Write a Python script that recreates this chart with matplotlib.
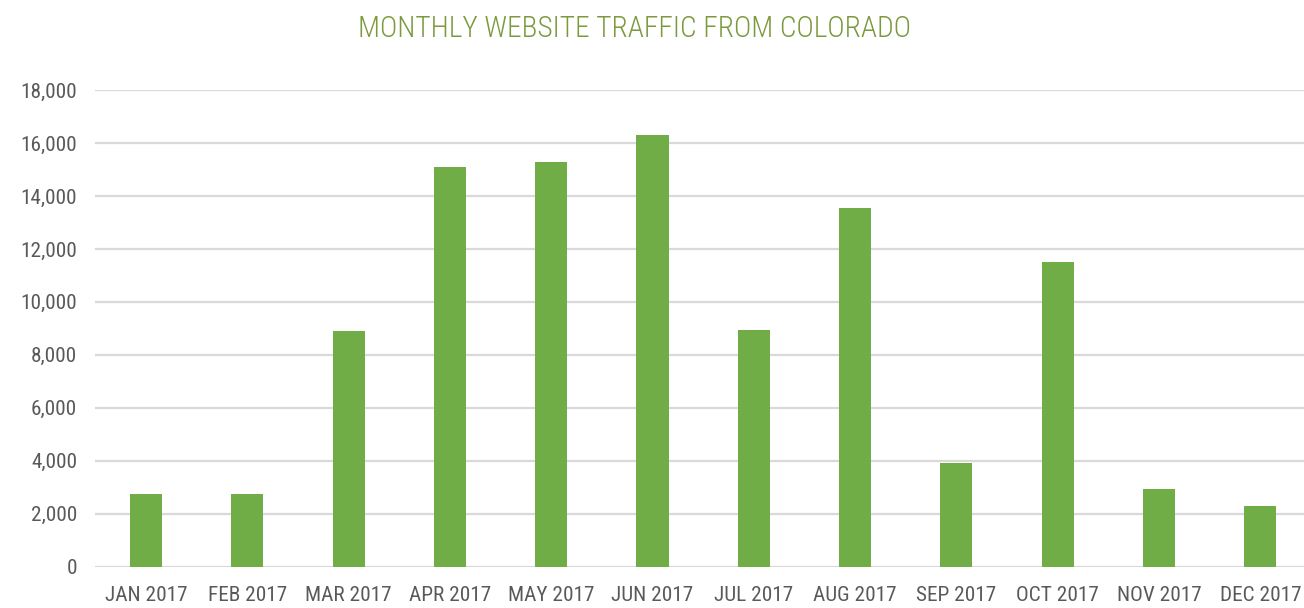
import matplotlib
matplotlib.use("Agg")
import matplotlib.pyplot as plt
from matplotlib import font_manager
from matplotlib.ticker import FuncFormatter

# data
months = ["JAN 2017", "FEB 2017", "MAR 2017", "APR 2017", "MAY 2017", "JUN 2017",
          "JUL 2017", "AUG 2017", "SEP 2017", "OCT 2017", "NOV 2017", "DEC 2017"]
visits = [2730, 2730, 8900, 15080, 15270, 16290, 8950, 13530, 3930, 11500, 2950, 2280]
yticks = [0, 2000, 4000, 6000, 8000, 10000, 12000, 14000, 16000, 18000]

names = set(f.name for f in font_manager.fontManager.ttflist)
fam = "Roboto Condensed" if "Roboto Condensed" in names else "Roboto"
plt.rcParams["font.family"] = [fam, "DejaVu Sans"]

fig = plt.figure(figsize=(13.04, 6.08), dpi=100)
ax = fig.add_axes([95.3 / 1304, (608 - 566.7) / 608, (1311 - 95.3) / 1304, 476.7 / 608])

ax.bar(range(len(months)), visits, width=0.316, color="#70AD47", zorder=3)
ax.set_xlim(-0.5, len(months) - 0.5)
ax.set_ylim(0, 18000)
ax.set_yticks(yticks)
ax.yaxis.set_major_formatter(FuncFormatter(lambda v, p: f"{int(v):,}"))
ax.set_xticks(range(len(months)))
ax.set_xticklabels(months)
ax.grid(axis="y", color="#d9d9d9", linewidth=1.6, zorder=0)
for s in ax.spines.values():
    s.set_visible(False)
ax.tick_params(length=0, labelsize=15.3, labelcolor="#595959")
ax.tick_params(axis="y", pad=13)
ax.tick_params(axis="x", pad=14)

fig.text(635 / 1304, 1 - 29 / 608, "MONTHLY WEBSITE TRAFFIC FROM COLORADO",
         ha="center", va="center", fontsize=21.2, color="#7a9a3c", fontweight="light")

fig.savefig("out.png", dpi=100)
